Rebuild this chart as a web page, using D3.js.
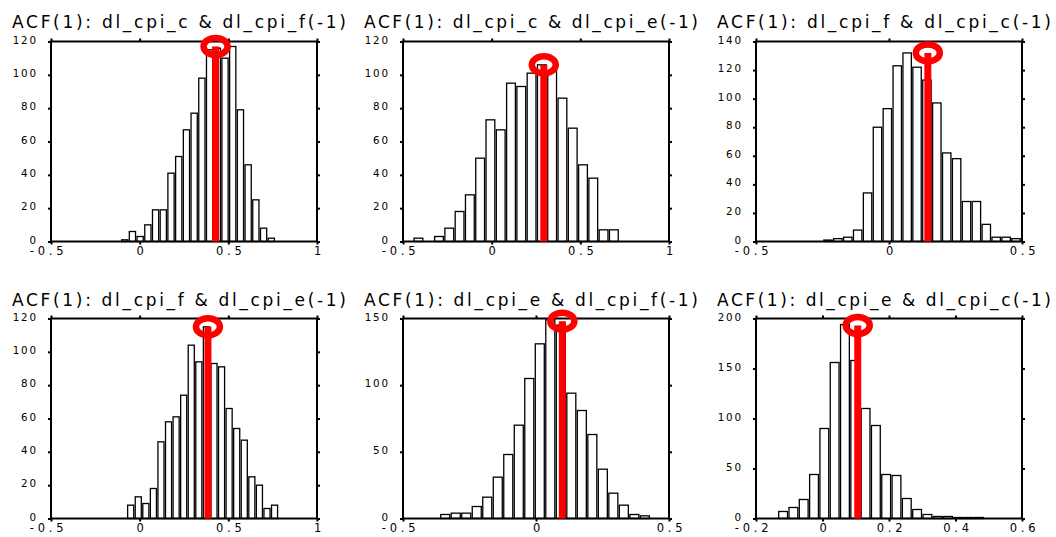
<!DOCTYPE html>
<html><head><meta charset="utf-8">
<script src="https://cdn.jsdelivr.net/npm/d3@7"></script>
<style>body{margin:0;background:#fff}svg{display:block}</style>
</head><body><svg id="chart" width="1056" height="537"></svg>
<script>
// ---- data ----
const titles = [
  "ACF(1): dl_cpi_c & dl_cpi_f(-1)",
  "ACF(1): dl_cpi_c & dl_cpi_e(-1)",
  "ACF(1): dl_cpi_f & dl_cpi_c(-1)",
  "ACF(1): dl_cpi_f & dl_cpi_e(-1)",
  "ACF(1): dl_cpi_e & dl_cpi_f(-1)",
  "ACF(1): dl_cpi_e & dl_cpi_c(-1)"
];
const countsCF = [1, 6, 3, 10, 19, 19, 41, 51, 67, 77, 98, 115, 116, 110, 117, 79, 46, 25, 8, 2];
const countsCE = [2, 0, 3, 8, 18, 28, 50, 73, 67, 95, 93, 101, 106, 102, 86, 68, 46, 38, 7, 7];
const countsFC = [1, 2, 3, 8, 34, 80, 93, 123, 132, 122, 113, 97, 62, 58, 28, 28, 12, 3, 3, 2];
const countsFE = [8, 13, 9, 18, 46, 58, 61, 74, 104, 94, 115, 93, 91, 66, 54, 47, 25, 20, 6, 8];
const countsEF = [3, 4, 4, 9, 16, 31, 48, 70, 105, 131, 149, 145, 94, 81, 63, 37, 19, 10, 3, 2];
const countsEC = [7, 11, 19, 44, 90, 156, 194, 158, 110, 93, 44, 43, 20, 9, 4, 2, 2, 1, 1, 1];
const allCounts = [countsCF, countsCE, countsFC, countsFE, countsEF, countsEC];

const binStarts = [-0.106, -0.442, -0.248, -0.072, -0.361, -0.134];
const binWidths = [0.0435, 0.058, 0.0372, 0.0427, 0.0395, 0.031];
const acfValues = [0.428, 0.294, 0.146, 0.385, 0.099, 0.106];
const markerHeights = [117, 106, 132, 115, 148, 193];

const xDomains = [[-0.5, 1], [-0.5, 1], [-0.5, 0.5], [-0.5, 1], [-0.5, 0.5], [-0.2, 0.6]];
const xTickLabels = [
  [-0.5, 0, 0.5, 1], [-0.5, 0, 0.5, 1], [-0.5, 0, 0.5],
  [-0.5, 0, 0.5, 1], [-0.5, 0, 0.5], [-0.2, 0, 0.2, 0.4, 0.6]
];
const yTickLabels = [
  [0, 20, 40, 60, 80, 100, 120],
  [0, 20, 40, 60, 80, 100, 120],
  [0, 20, 40, 60, 80, 100, 120, 140],
  [0, 20, 40, 60, 80, 100, 120],
  [0, 50, 100, 150],
  [0, 50, 100, 150, 200]
];

// ---- layout ----
const colX = [0, 352, 705];
const rowTop = [41.5, 318.5];
const titleBase = [28, 306];
const PL = 51, PW = 266, PH = 200;
const FONT = "DejaVu Sans, Verdana, sans-serif";

const svg = d3.select("#chart");
svg.append("rect").attr("width", 1056).attr("height", 537).attr("fill", "#fff");

allCounts.forEach((counts, i) => {
  const r = Math.floor(i / 3), c = i % 3;
  const left = colX[c] + PL, top = rowTop[r];

  svg.append("text")
    .attr("x", colX[c] + 12).attr("y", titleBase[r])
    .attr("font-family", FONT).attr("font-size", 17)
    .attr("textLength", 334).attr("lengthAdjust", "spacing")
    .attr("fill", "#000")
    .text(titles[i]);

  const g = svg.append("g").attr("transform", `translate(${left},${top})`);
  const x = d3.scaleLinear().domain(xDomains[i]).range([0, PW]);
  const yt = yTickLabels[i];
  const y = d3.scaleLinear().domain([0, yt[yt.length - 1]]).range([PH, 0]);

  const bins = counts.map((v, k) => ({ x0: binStarts[i] + k * binWidths[i], x1: binStarts[i] + (k + 1) * binWidths[i], v }));
  g.selectAll("rect.bar").data(bins.filter(d => d.v > 0)).join("rect")
    .attr("class", "bar")
    .attr("x", d => x(d.x0) + 0.75)
    .attr("width", d => x(d.x1) - x(d.x0) - 1.5)
    .attr("y", d => y(d.v))
    .attr("height", d => PH - y(d.v))
    .attr("fill", "#fff").attr("stroke", "#000").attr("stroke-width", 1.3);

  // axes
  const ax = [
    d3.axisLeft(y).tickValues(yt).tickSize(3).tickPadding(10).tickFormat(d => `${d}`),
    d3.axisBottom(x).tickValues(xTickLabels[i]).tickSize(3).tickPadding(4).tickFormat(d => `${d}`),
    d3.axisTop(x).tickValues(xTickLabels[i]).tickSize(3).tickFormat(""),
    d3.axisRight(y).tickValues(yt).tickSize(3).tickFormat("")
  ];
  const tr = ["", `translate(0,${PH})`, "", `translate(${PW},0)`];
  ax.forEach((a, k) => {
    const ag = g.append("g").attr("transform", tr[k]).call(a);
    ag.select(".domain").remove();
    ag.selectAll(".tick line").attr("stroke", "#000").attr("stroke-width", 2);
    ag.selectAll("text").attr("fill", "#000").attr("font-family", FONT);
    if (k === 0) {
      ag.selectAll("text").attr("font-size", 10.3).attr("letter-spacing", 1.9).attr("dy", 1.5);
    }
    if (k === 1) {
      ag.selectAll("text").attr("font-size", 11.5).attr("letter-spacing", 3.8)
        .attr("dy", "0.6em")
        .attr("dx", d => (String(d).startsWith("-") ? -3 : 2));
    }
  });

  g.append("rect").attr("width", PW).attr("height", PH)
    .attr("fill", "none").attr("stroke", "#000").attr("stroke-width", 2);

  // red marker
  const cx = x(acfValues[i]), cy = y(markerHeights[i]);
  g.append("line").attr("x1", cx).attr("x2", cx).attr("y1", y(0)).attr("y2", cy)
    .attr("stroke", "#ff0000").attr("stroke-width", 7);
  g.append("ellipse").attr("cx", cx).attr("cy", cy).attr("rx", 12).attr("ry", 8.5)
    .attr("fill", "none").attr("stroke", "#ff0000").attr("stroke-width", 6.5);
});
</script>
</body></html>
